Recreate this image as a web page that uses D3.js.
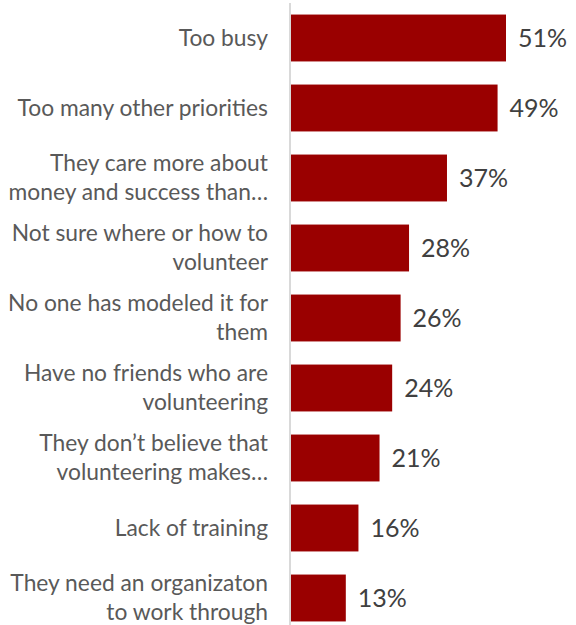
<!DOCTYPE html>
<html>
<head>
<meta charset="utf-8">
<script src="https://cdn.jsdelivr.net/npm/d3@7"></script>
<style>
  html, body { margin: 0; padding: 0; background: #fff; }
  svg { display: block; }
</style>
</head>
<body>
<svg id="chart" width="576" height="625"></svg>
<script>
const categories = [
  "Too busy",
  "Too many other priorities",
  "They care more about\nmoney and success than…",
  "Not sure where or how to\nvolunteer",
  "No one has modeled it for\nthem",
  "Have no friends who are\nvolunteering",
  "They don’t believe that\nvolunteering makes…",
  "Lack of training",
  "They need an organizaton\nto work through"
];
const values = [51, 49, 37, 28, 26, 24, 21, 16, 13];
const valueLabels = ["51%", "49%", "37%", "28%", "26%", "24%", "21%", "16%", "13%"];

const svg = d3.select("#chart");
const axisX = 290;
const fontFamily = "Lato, 'Open Sans', sans-serif";

const x = d3.scaleLinear().domain([0, 51]).range([axisX, 505]);
const y = d3.scaleBand().domain(categories).range([3, 633]).paddingInner(0.33).paddingOuter(0.165);

const data = categories.map((c, i) => ({ c, v: values[i], l: valueLabels[i] }));

svg.selectAll("rect.bar").data(data).join("rect")
  .attr("class", "bar")
  .attr("x", x(0) + 1)
  .attr("y", d => y(d.c))
  .attr("width", d => x(d.v) - x(0))
  .attr("height", y.bandwidth())
  .attr("fill", "#9a0000");

svg.append("line")
  .attr("x1", axisX).attr("x2", axisX)
  .attr("y1", 3).attr("y2", 625)
  .attr("stroke", "#d9d9d9").attr("stroke-width", 2);

const lineH = 29;
svg.selectAll("text.cat").data(data).join("text")
  .attr("class", "cat")
  .attr("text-anchor", "end")
  .attr("font-family", fontFamily)
  .attr("font-size", 22.8)
  .attr("fill", "#595959")
  .each(function(d) {
    const lines = d.c.split("\n");
    const cy = y(d.c) + y.bandwidth() / 2;
    const t = d3.select(this);
    lines.forEach((ln, i) => {
      t.append("tspan")
        .attr("x", 268)
        .attr("y", cy + (i - (lines.length - 1) / 2) * lineH)
        .attr("dy", "0.35em")
        .text(ln);
    });
  });

svg.selectAll("text.val").data(data).join("text")
  .attr("class", "val")
  .attr("x", d => x(d.v) + 13)
  .attr("y", d => y(d.c) + y.bandwidth() / 2)
  .attr("dy", "0.36em")
  .attr("font-family", fontFamily)
  .attr("font-size", 25)
  .attr("fill", "#404040")
  .text(d => d.l);
</script>
</body>
</html>
